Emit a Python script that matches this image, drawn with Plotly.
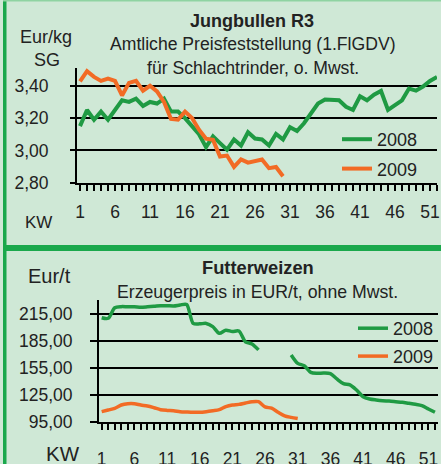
import plotly.graph_objects as go

weeks = list(range(1, 53))

rind_2008 = [3.15, 3.25, 3.19, 3.24, 3.19, 3.25, 3.31, 3.30, 3.32, 3.275,
             3.30, 3.29, 3.32, 3.24, 3.24, 3.20, 3.15, 3.10, 3.02, 3.087,
             3.045, 3.004, 3.067, 3.03, 3.112, 3.073, 3.068, 3.03, 3.102, 3.068,
             3.143, 3.12, 3.168, 3.232, 3.29, 3.315, 3.315, 3.31, 3.27, 3.25,
             3.335, 3.31, 3.345, 3.368, 3.25, 3.28, 3.31, 3.383, 3.37, 3.395,
             3.43, 3.455]
rind_2009 = [3.427, 3.49, 3.455, 3.43, 3.445, 3.43, 3.34, 3.418, 3.43, 3.37,
             3.40, 3.365, 3.30, 3.195, 3.19, 3.24, 3.20, 3.128, 3.072, 3.065,
             2.962, 2.968, 2.898, 2.944, 2.924, 2.932, 2.944, 2.89, 2.897, 2.84]

weizen_2008 = [210.8, 210.2, 222.0, 223.2, 223.0, 223.0, 222.6, 223.0, 223.5, 224.2,
               224.3, 224.0, 225.0, 225.6, 204.6, 204.0, 204.5, 201.0, 193.5, 197.0,
               195.5, 196.0, 184.0, 181.6, 175.0, None, None, None, None, 169.3,
               160.0, 157.4, 150.0, 149.0, 149.2, 148.5, 142.6, 137.4, 136.0, 130.3,
               122.9, 120.3, 119.2, 118.4, 118.0, 117.3, 116.6, 115.5, 114.4, 112.9,
               109.2, 105.5]
weizen_2009 = [106.2, 108.0, 109.9, 113.6, 115.1, 115.1, 113.6, 112.5, 110.6, 108.4,
               107.6, 107.2, 106.2, 105.8, 105.5, 105.5, 106.2, 107.2, 108.4, 111.8,
               113.6, 114.3, 115.8, 117.3, 117.3, 111.5, 110.0, 105.5, 101.5, 99.8,
               98.5]

rind_ticks = [2.80, 3.00, 3.20, 3.40]
rind_ticktext = ["2,80", "3,00", "3,20", "3,40"]
weizen_ticks = [95, 125, 155, 185, 215]
weizen_ticktext = ["95,00", "125,00", "155,00", "185,00", "215,00"]

GREEN = "#1f9a43"
ORANGE = "#f26b25"
BG = "#cfe8d6"
BORDER = "#1aa84c"
TXT = "#222222"
FONT = "Liberation Sans, Arial, sans-serif"

W, H = 441, 464

def px(x):
    return x / W

def py(y):
    return 1 - y / H

fig = go.Figure()

fig.add_trace(go.Scatter(x=weeks, y=rind_2008, mode="lines", name="2008",
                         line=dict(color=GREEN, width=4), xaxis="x", yaxis="y",
                         legend="legend", legendgroup="a"))
fig.add_trace(go.Scatter(x=weeks[:len(rind_2009)], y=rind_2009, mode="lines", name="2009",
                         line=dict(color=ORANGE, width=4), xaxis="x", yaxis="y",
                         legend="legend", legendgroup="b"))
fig.add_trace(go.Scatter(x=weeks, y=weizen_2008, mode="lines", name="2008",
                         line=dict(color=GREEN, width=3.5, shape="spline", smoothing=0.8),
                         connectgaps=False, xaxis="x2", yaxis="y2", legend="legend2",
                         legendgroup="c"))
fig.add_trace(go.Scatter(x=weeks[:len(weizen_2009)], y=weizen_2009, mode="lines", name="2009",
                         line=dict(color=ORANGE, width=3.5, shape="spline", smoothing=0.8),
                         xaxis="x2", yaxis="y2", legend="legend2", legendgroup="d"))

TICKSIZE = 17.5

xcommon = dict(showline=True, linecolor="black", linewidth=2, showgrid=False, zeroline=False,
               ticks="outside", ticklen=6, tickwidth=2, tickcolor="black",
               tickmode="linear", tick0=1, dtick=5, automargin=False,
               minor=dict(ticks="outside", ticklen=6, tickwidth=2, tickcolor="black",
                          tick0=1, dtick=1, showgrid=False),
               tickfont=dict(family=FONT, size=TICKSIZE, color=TXT), fixedrange=True)
ycommon = dict(showline=True, linecolor="black", linewidth=2, showgrid=True,
               gridcolor="black", gridwidth=2, zeroline=False, automargin=False,
               ticks="outside", tickwidth=2, tickcolor="black",
               tickmode="array", tickfont=dict(family=FONT, size=TICKSIZE, color=TXT),
               fixedrange=True)

fig.update_layout(
    width=W, height=H,
    margin=dict(l=0, r=0, t=0, b=0, autoexpand=False),
    paper_bgcolor=BG, plot_bgcolor=BG,
    font=dict(family=FONT, size=18, color=TXT),
    xaxis=dict(domain=[px(77), px(437)], range=[0.57, 52.0], anchor="y",
               ticklabelstandoff=6, **xcommon),
    yaxis=dict(domain=[py(182.7), py(68)], range=[2.80, 3.51], anchor="x",
               tickvals=rind_ticks, ticktext=rind_ticktext, ticklen=5,
               ticklabelstandoff=18, **ycommon),
    xaxis2=dict(domain=[px(99), px(438)], range=[0.59, 52.47], anchor="y2",
                ticklabelstandoff=14, **xcommon),
    yaxis2=dict(domain=[py(421.7), py(300)], range=[95, 230.6], anchor="x2",
                tickvals=weizen_ticks, ticktext=weizen_ticktext, ticklen=7,
                ticklabelstandoff=14, **ycommon),
    legend=dict(x=px(337), y=py(121), xanchor="left", yanchor="top",
                bgcolor="rgba(0,0,0,0)", font=dict(family=FONT, size=18, color=TXT),
                tracegroupgap=3, itemwidth=30),
    legend2=dict(x=px(353), y=py(310), xanchor="left", yanchor="top",
                 bgcolor="rgba(0,0,0,0)", font=dict(family=FONT, size=18, color=TXT),
                 tracegroupgap=1.5, itemwidth=30),
    showlegend=True,
)

ann = [
    ("<b>Jungbullen R3</b>", 252, 20.5, 18),
    ("Amtliche Preisfeststellung (1.FlGDV)", 252.5, 43.5, 17.6),
    ("für Schlachtrinder, o. Mwst.", 253, 67.5, 17.6),
    ("Eur/kg", 46, 37, 18),
    ("SG", 46.7, 60, 18),
    ("KW", 38.3, 222, 17),
    ("<b>Futterweizen</b>", 257.5, 267.5, 18.3),
    ("Erzeugerpreis in EUR/t, ohne Mwst.", 257.5, 291.7, 17.7),
    ("Eur/t", 49.2, 276.3, 20),
    ("KW", 63, 453.5, 20.5),
]
for text, x, y, s in ann:
    fig.add_annotation(text=text, x=px(x), y=py(y), xref="paper", yref="paper",
                       xanchor="center", yanchor="middle", showarrow=False,
                       font=dict(family=FONT, size=s, color=TXT))

# panel borders
fig.add_shape(type="rect", xref="paper", yref="paper", x0=px(3), x1=px(6.5), y0=0, y1=1,
              fillcolor=BORDER, line=dict(width=0), layer="above")
fig.add_shape(type="rect", xref="paper", yref="paper", x0=px(3), x1=1, y0=py(251), y1=py(245),
              fillcolor=BORDER, line=dict(width=0), layer="above")
fig.add_shape(type="rect", xref="paper", yref="paper", x0=px(3), x1=1, y0=py(1.5), y1=1,
              fillcolor="#8fd3a2", line=dict(width=0), layer="above")

fig.write_html("out.html", config={"displayModeBar": False},
               post_script="document.body.style.margin='0';document.body.style.background='%s';" % BG)
